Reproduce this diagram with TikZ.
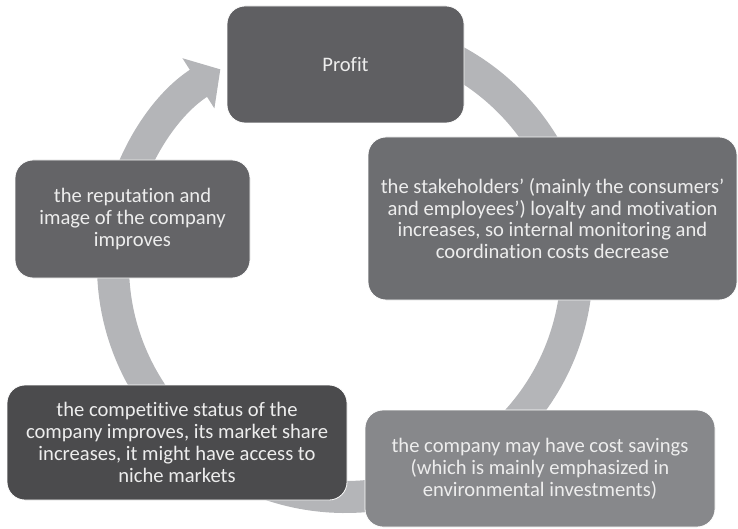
\documentclass[tikz,border=0pt]{standalone}
\usepackage{fontspec}
\setmainfont[Ligatures=NoCommon]{Carlito}
\usetikzlibrary{arrows.meta}
\definecolor{ringgray}{HTML}{B4B5B8}
\definecolor{profitgray}{HTML}{5F5F62}
\definecolor{stakegray}{HTML}{6D6E71}
\definecolor{costgray}{HTML}{87888B}
\definecolor{compgray}{HTML}{4B4B4D}
\definecolor{repgray}{HTML}{646467}
\definecolor{txtgray}{HTML}{EDEDED}

\begin{document}
\begin{tikzpicture}[x=1pt,y=1pt,
   box/.style={draw=white,line width=0.8pt,rounded corners=18pt,align=center,
     text=txtgray,inner sep=0pt,font=\fontsize{20.6}{21.8}\selectfont}]
   \useasboundingbox (0,0) rectangle (738,528);
   \coordinate (centre) at (345,263);
   \draw[ringgray,line width=32pt,-{Triangle[length=26pt,width=58pt]}]
    (centre) ++(85:232) arc[start angle=85,end angle=-237.5,radius=232];
   \node[box,fill=profitgray,minimum width=237pt,minimum height=117pt]
    (profit) at (345.5,463.5) {Profit};
   \node[box,fill=stakegray,minimum width=369pt,minimum height=163pt]
    (stake) at (552.5,309.5) {the stakeholders’ (mainly the consumers’\\
     and employees’) loyalty and motivation\\ increases, so internal monitoring and\\
     coordination costs decrease};
   \node[box,fill=costgray,minimum width=350pt,minimum height=117pt]
    (cost) at (540,59.5) {the company may have cost savings\\
     (which is mainly emphasized in\\ environmental investments)};
   \node[box,fill=compgray,minimum width=340pt,minimum height=115pt]
    (comp) at (177,85.5) {the competitive status of the\\
     company improves, its market share\\ increases, it might have access to\\
     niche markets};
   \node[box,fill=repgray,minimum width=235pt,minimum height=118pt]
    (rep) at (132.5,309) {the reputation and\\ image of the company\\ improves};
\end{tikzpicture}
\end{document}
